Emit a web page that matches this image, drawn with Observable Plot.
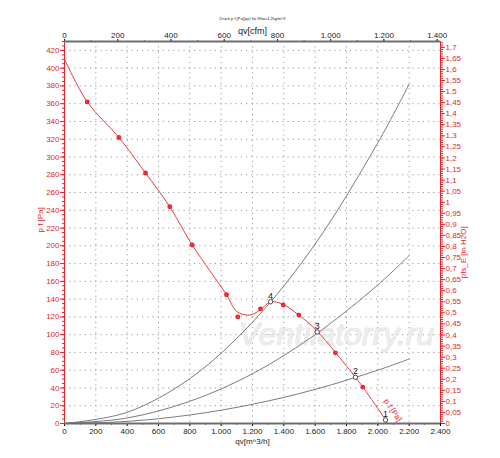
<!DOCTYPE html>
<html><head><meta charset="utf-8">
<script src="https://cdn.jsdelivr.net/npm/d3@7"></script>
<script src="https://cdn.jsdelivr.net/npm/@observablehq/plot@0.6"></script>
<style>body{margin:0;background:#fff;font-family:"Liberation Sans",Arial,sans-serif}</style>
</head><body><div id="chart"></div>
<script>
// Fan curve p_f [Pa] vs qv [m^3/h] – line vertices
const fanQ = [0, 145, 347, 517, 672, 815, 1034, 1100, 1180, 1251, 1315, 1396, 1496, 1613, 1729, 1857, 1904, 2049, 2061];
const fanP = [410, 362, 322, 282, 244, 201, 145, 126, 122, 128, 137, 134, 122, 104, 80, 52, 41, 4, 0];
// Measured points (markers)
const markQ = [145, 347, 517, 672, 815, 1034, 1106, 1251, 1396, 1496, 1729, 1904];
const markP = [362, 322, 282, 244, 201, 145, 120, 129, 133.5, 122, 79.5, 41];
// Operating points
const opLabel = ["4", "3", "2", "1"];
const opQ = [1315, 1613, 1857, 2049];
const opP = [137, 103, 52, 4];
// System curves
const sysQ = [0, 400, 800, 1200, 1600, 2000, 2200];
const sysA = [0, 12.6, 50.6, 114, 202, 316, 382];
const sysB = [0, 6.2, 25, 56, 100, 156, 189];
const sysC = [0, 2.4, 9.6, 21.6, 38.4, 60, 72.6];
// Tick labels
const xTicks = [0, 200, 400, 600, 800, 1000, 1200, 1400, 1600, 1800, 2000, 2200, 2400];
const cfmTicks = [0, 200, 400, 600, 800, 1000, 1200, 1400];
const paTicks = [0,20,40,60,80,100,120,140,160,180,200,220,240,260,280,300,320,340,360,380,400,420];
const inTicks = [0,0.05,0.1,0.15,0.2,0.25,0.3,0.35,0.4,0.45,0.5,0.55,0.6,0.65,0.7,0.75,0.8,0.85,0.9,0.95,1,1.05,1.1,1.15,1.2,1.25,1.3,1.35,1.4,1.45,1.5,1.55,1.6,1.65,1.7];

const CFM = 1.699, INH2O = 249.09;
const RED = "#e3262d";
const loc = d3.formatLocale({decimal: ",", thousands: ".", grouping: [3], currency: ["", ""]});
const fInt = loc.format(",d");
const fDec = v => String(+v.toFixed(2)).replace(".", ",");

const fan = fanQ.map((q, i) => ({q, p: fanP[i]}));
const marks = markQ.map((q, i) => ({q, p: markP[i]}));
const ops = opQ.map((q, i) => ({q, p: opP[i], l: opLabel[i]}));
const sys = [sysA, sysB, sysC].flatMap((arr, k) => sysQ.map((q, i) => ({q, p: arr[i], s: k})));

const minorX = d3.range(0, 2401, 100);
const minorCfm = d3.range(0, 1401, 100).map(v => v * CFM);
const minorPa = d3.range(0, 431, 5);
const minorIn = d3.range(0, 1.721, 0.01).map(v => v * INH2O);

const chart = Plot.plot({
  width: 500, height: 458,
  marginLeft: 64, marginRight: 60, marginTop: 41, marginBottom: 35,
  style: {fontFamily: "Liberation Sans, Arial, sans-serif", fontSize: "8px", background: "#fff"},
  x: {domain: [0, 2400], label: null},
  y: {domain: [0, 430], label: null},
  marks: [
    Plot.gridY(paTicks.filter(d => d > 0), {stroke: "#9a9a9a", strokeOpacity: 1, strokeDasharray: "1.2,4"}),
    Plot.gridX(xTicks.filter(d => d > 0 && d < 2400), {stroke: "#9a9a9a", strokeOpacity: 1, strokeDasharray: "1.2,4"}),
    Plot.text(["Ventilatorry.ru"], {x: 1735, y: 100, fontSize: 32, fontStyle: "italic", fill: "#ededed", stroke: "#cfcfcf", strokeWidth: 0.6, fontFamily: "Liberation Sans, Arial, sans-serif"}),
    Plot.line(sys, {x: "q", y: "p", z: "s", stroke: "#5a5a5a", strokeWidth: 0.8, curve: "catmull-rom"}),
    Plot.line(fan, {x: "q", y: "p", stroke: RED, strokeWidth: 0.9, curve: "catmull-rom"}),
    Plot.dot(marks, {x: "q", y: "p", r: 1.7, fill: RED, stroke: RED, fillOpacity: 0.8}),
    Plot.dot(ops, {x: "q", y: "p", r: 2.2, stroke: "#222", fill: "white", strokeWidth: 0.8}),
    Plot.text(ops, {x: "q", y: "p", text: "l", dy: -6, fontSize: 9, fill: "#222"}),
    Plot.text(["p f [Pa]"], {x: 2095, y: 15, rotate: 56, fill: RED, fontSize: 8}),
    // axes
    Plot.axisX({ticks: minorX, tickSize: 2, text: null, stroke: "#666", label: null}),
    Plot.axisX({ticks: xTicks, tickSize: 3, tickFormat: fInt, fill: "#222", label: null, tickPadding: 2}),
    Plot.axisX({anchor: "top", ticks: minorCfm, tickSize: 2, text: null, stroke: "#666", label: null}),
    Plot.axisX({anchor: "top", ticks: cfmTicks.map(v => v * CFM), tickSize: 3, tickFormat: v => fInt(Math.round(v / CFM)), fill: "#222", label: null, tickPadding: 1}),
    Plot.axisY({ticks: minorPa, tickSize: 2, text: null, stroke: RED, label: null}),
    Plot.axisY({ticks: paTicks, tickSize: 4, tickFormat: d => d, fill: RED, stroke: RED, label: null, tickPadding: 1}),
    Plot.axisY({anchor: "right", ticks: minorIn, tickSize: 2, text: null, stroke: RED, label: null}),
    Plot.axisY({anchor: "right", ticks: inTicks.map(v => v * INH2O), tickSize: 4, tickFormat: v => fDec(v / INH2O), fill: RED, stroke: RED, label: null, tickPadding: 1}),
    Plot.ruleX([0], {stroke: RED, strokeWidth: 1}),
    Plot.ruleX([2400], {stroke: RED, strokeWidth: 1}),
    Plot.ruleY([0], {stroke: "#6e6e6e", strokeWidth: 2}),
    Plot.ruleY([430], {stroke: "#6e6e6e", strokeWidth: 2}),
    // axis labels and title
    Plot.text(["qv[m^3/h]"], {frameAnchor: "bottom", dy: 20, fontSize: 8, fill: "#222"}),
    Plot.text(["qv[cfm]"], {frameAnchor: "top", dy: -14, fontSize: 9, fill: "#222"}),
    Plot.text(["Druck p f [Pa](qv) für Rho=1,2kg/m^3"], {frameAnchor: "top", dy: -24, fontSize: 4, fill: "#222"}),
    Plot.text(["p f [Pa]"], {frameAnchor: "left", y: 215, dx: -24, rotate: -90, fontSize: 8, fill: RED}),
    Plot.text(["pfs_E [in H2O]"], {frameAnchor: "right", y: 222, dx: 23, rotate: -90, fontSize: 8, fill: RED})
  ]
});
document.getElementById("chart").appendChild(chart);
</script></body></html>
